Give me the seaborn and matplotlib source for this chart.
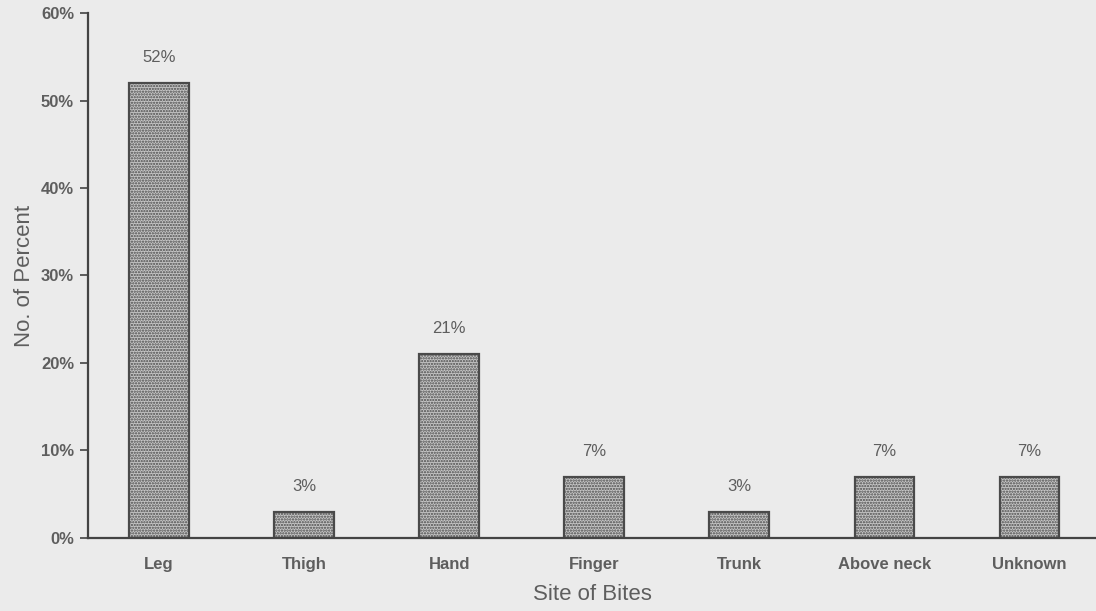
import matplotlib
matplotlib.use("Agg")
import matplotlib.pyplot as plt
import seaborn as sns
import pandas as pd
import numpy as np

categories = ["Leg", "Thigh", "Hand", "Finger", "Trunk", "Above neck", "Unknown"]
percent = [52, 3, 21, 7, 3, 7, 7]
y_ticks = [0, 10, 20, 30, 40, 50, 60]
y_tick_labels = ["0%", "10%", "20%", "30%", "40%", "50%", "60%"]

df = pd.DataFrame({"site": categories, "pct": percent})

sns.set_theme(style="white")
plt.rcParams["font.family"] = ["Liberation Sans", "DejaVu Sans"]
plt.rcParams["hatch.color"] = "#555555"
plt.rcParams["hatch.linewidth"] = 1.1

bg = "#ebebeb"
txt = "#5e5e5e"
fig = plt.figure(figsize=(10.96, 6.11), dpi=100, facecolor=bg)
ax = fig.add_axes([0.0803, 0.1195, 0.9197, 0.8592])
ax.set_facecolor(bg)

sns.barplot(data=df, x="site", y="pct", ax=ax, color="#c6c6c6", width=0.41,
            edgecolor="#4a4a4a", linewidth=1.6, hatch="......", saturation=1)

for i, v in enumerate(percent):
    ax.annotate(f"{v}%", xy=(i, v), xytext=(0, 18), textcoords="offset pixels",
                ha="center", va="bottom", fontsize=12, color=txt)

ax.set_xlim(-0.49, 6.46)
ax.set_ylim(0, 60)
ax.set_yticks(y_ticks)
ax.set_yticklabels(y_tick_labels, fontsize=12, color=txt, fontweight="bold")
ax.set_xticks(range(len(categories)))
ax.set_xticklabels(categories, fontsize=12, color=txt, fontweight="bold")
ax.set_xticks(np.arange(0.5, len(categories) - 0.5, 1), minor=True)
ax.tick_params(axis="x", which="major", length=0, pad=14)
ax.tick_params(axis="x", which="minor", length=5, width=1.2, color="#444444",
               direction="out")
ax.tick_params(axis="y", which="major", length=6, width=1.2, color="#444444",
               direction="out", pad=4, left=True)

for s in ["top", "right"]:
    ax.spines[s].set_visible(False)
for s in ["left", "bottom"]:
    ax.spines[s].set_color("#444444")
    ax.spines[s].set_linewidth(1.6)

ax.set_xlabel("Site of Bites", fontsize=16, color=txt, labelpad=8)
ax.set_ylabel("No. of Percent", fontsize=16, color=txt, labelpad=4)

fig.savefig("out.png", dpi=100, facecolor=bg)
